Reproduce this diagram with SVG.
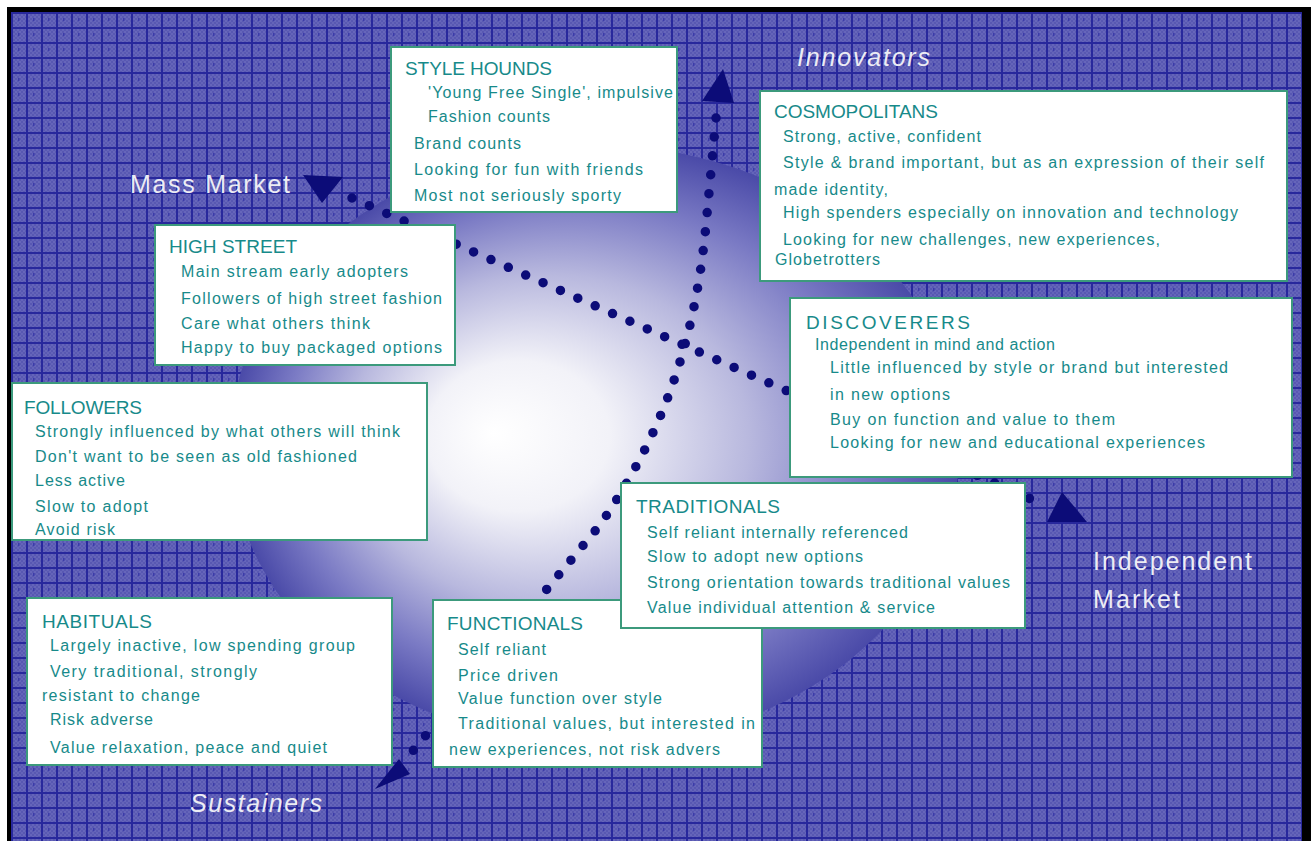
<svg xmlns="http://www.w3.org/2000/svg" width="1311" height="841" viewBox="0 0 1311 841">
  <defs>
    <!-- fine dither inside each grid cell -->
    <pattern id="dither" width="4" height="4" patternUnits="userSpaceOnUse">
      <rect width="4" height="4" fill="#5858b2"/>
      <rect width="2" height="2" fill="#6666ba"/>
      <rect x="2" y="2" width="2" height="2" fill="#6464b9"/>
    </pattern>
    <!-- woven grid backdrop -->
    <pattern id="grid" width="15" height="15" patternUnits="userSpaceOnUse" x="11" y="12">
      <rect width="15" height="15" fill="url(#dither)"/>
      <rect x="0" y="0" width="15" height="2" fill="#28289c"/>
      <rect x="0" y="0" width="2" height="15" fill="#28289c"/>
      <rect x="7" y="6" width="1.5" height="3" fill="#3c3caa"/>
    </pattern>
    <radialGradient id="sphere" cx="0.5" cy="0.5" r="0.5" fx="0.36" fy="0.48">
      <stop offset="0" stop-color="#ffffff"/>
      <stop offset="0.25" stop-color="#f2f2f8"/>
      <stop offset="0.55" stop-color="#b8b8de"/>
      <stop offset="0.8" stop-color="#7a7ac4"/>
      <stop offset="1" stop-color="#4a4aa8"/>
    </radialGradient>
    <style>
      .box rect { fill: #ffffff; stroke: #3c9a7c; stroke-width: 2; }
      .box text { font-family: "Liberation Sans", Arial, sans-serif; font-size: 16px; fill: #178a8a; }
      .box text.h { font-size: 19px; }
      .axis { fill: none; stroke: #0c0c78; stroke-width: 9.5; stroke-linecap: round; stroke-dasharray: 0 19; }
      .head { fill: #0c0c78; }
      .lbl { font-family: "Liberation Sans", Arial, sans-serif; font-size: 25px; fill: #ececf4; }
      .it { font-style: italic; }
    </style>
  </defs>

  <!-- frame and backdrop -->
  <rect width="1311" height="841" fill="#ffffff"/>
  <rect x="7" y="7" width="1304" height="834" fill="#000000"/>
  <rect x="11" y="12" width="1291" height="829" fill="url(#grid)"/>

  <!-- shaded globe -->
  <ellipse cx="595" cy="445" rx="365" ry="300" fill="url(#sphere)"/>

  <!-- axis labels -->
  <text class="lbl it" x="797" y="66" textLength="133">Innovators</text>
  <text class="lbl" x="130" y="193" textLength="160">Mass Market</text>
  <text class="lbl" x="1093" y="570" font-size="26" textLength="159">Independent</text>
  <text class="lbl" x="1093" y="608" font-size="26" textLength="87">Market</text>
  <text class="lbl it" x="190" y="812" textLength="132">Sustainers</text>

  <!-- dotted axes with arrowheads -->
  <g id="connectors">
    <path class="axis" d="M716,118 L706,225 C695,340 665,430 600,525 L412,752"/>
    <path class="axis" d="M352,198 L1033,500"/>
    <polygon class="head" points="723,69 702,101 734,103"/>
    <polygon class="head" points="399,759 410,774 375,789"/>
    <polygon class="head" points="303,175 343,177 322,203"/>
    <polygon class="head" points="1062,492 1047,522 1087,522"/>
  </g>

  <g id="style-hounds" class="box">
    <rect x="391" y="47" width="286" height="165"/>
    <text class="h" x="405" y="75" textLength="147">STYLE HOUNDS</text>
    <text x="428" y="98" textLength="245">'Young Free Single', impulsive</text>
    <text x="428" y="122" textLength="122">Fashion counts</text>
    <text x="414" y="149" textLength="107">Brand counts</text>
    <text x="414" y="175" textLength="229">Looking for fun with friends</text>
    <text x="414" y="201" textLength="207">Most not seriously sporty</text>
  </g>

  <g id="cosmopolitans" class="box">
    <rect x="760" y="91" width="527" height="190"/>
    <text class="h" x="774" y="118" textLength="164">COSMOPOLITANS</text>
    <text x="783" y="142" textLength="198">Strong, active, confident</text>
    <text x="783" y="168" textLength="481">Style &amp; brand important, but as an expression of their self</text>
    <text x="774" y="195" textLength="114">made identity,</text>
    <text x="783" y="218" textLength="455">High spenders especially on innovation and technology</text>
    <text x="783" y="245" textLength="377">Looking for new challenges, new experiences,</text>
    <text x="775" y="265" textLength="105">Globetrotters</text>
  </g>

  <g id="high-street" class="box">
    <rect x="155" y="225" width="300" height="140"/>
    <text class="h" x="169" y="253" textLength="128">HIGH STREET</text>
    <text x="181" y="277" textLength="227">Main stream early adopters</text>
    <text x="181" y="304" textLength="261">Followers of high street fashion</text>
    <text x="181" y="329" textLength="189">Care what others think</text>
    <text x="181" y="353" textLength="261">Happy to buy packaged options</text>
  </g>

  <g id="discoverers" class="box">
    <rect x="790" y="298" width="502" height="179"/>
    <text class="h" x="806" y="329" textLength="164">DISCOVERERS</text>
    <text x="815" y="350" textLength="240">Independent in mind and action</text>
    <text x="830" y="373" textLength="398">Little influenced by style or brand but interested</text>
    <text x="830" y="400" textLength="120">in new options</text>
    <text x="830" y="425" textLength="285">Buy on function and value to them</text>
    <text x="830" y="448" textLength="375">Looking for new and educational experiences</text>
  </g>

  <g id="followers" class="box">
    <rect x="12" y="383" width="415" height="157"/>
    <text class="h" x="24" y="414" textLength="118">FOLLOWERS</text>
    <text x="35" y="437" textLength="365">Strongly influenced by what others will think</text>
    <text x="35" y="462" textLength="322">Don't want to be seen as old fashioned</text>
    <text x="35" y="486" textLength="90">Less active</text>
    <text x="35" y="512" textLength="113">Slow to adopt</text>
    <text x="35" y="535" textLength="80">Avoid risk</text>
  </g>

  <g id="habituals" class="box">
    <rect x="27" y="598" width="365" height="167"/>
    <text class="h" x="42" y="628" textLength="110">HABITUALS</text>
    <text x="50" y="651" textLength="305">Largely inactive, low spending group</text>
    <text x="50" y="677" textLength="207">Very traditional, strongly</text>
    <text x="42" y="701" textLength="158">resistant to change</text>
    <text x="50" y="725" textLength="103">Risk adverse</text>
    <text x="50" y="753" textLength="277">Value relaxation, peace and quiet</text>
  </g>

  <g id="functionals" class="box">
    <rect x="433" y="600" width="329" height="167"/>
    <text class="h" x="447" y="630" textLength="136">FUNCTIONALS</text>
    <text x="458" y="655" textLength="88">Self reliant</text>
    <text x="458" y="681" textLength="100">Price driven</text>
    <text x="458" y="704" textLength="204">Value function over style</text>
    <text x="458" y="729" textLength="297">Traditional values, but interested in</text>
    <text x="449" y="755" textLength="271">new experiences, not risk advers</text>
  </g>

  <g id="traditionals" class="box">
    <rect x="621" y="483" width="404" height="145"/>
    <text class="h" x="636" y="513" textLength="144">TRADITIONALS</text>
    <text x="647" y="538" textLength="261">Self reliant internally referenced</text>
    <text x="647" y="562" textLength="216">Slow to adopt new options</text>
    <text x="647" y="588" textLength="363">Strong orientation towards traditional values</text>
    <text x="647" y="613" textLength="288">Value individual attention &amp; service</text>
  </g>
</svg>
